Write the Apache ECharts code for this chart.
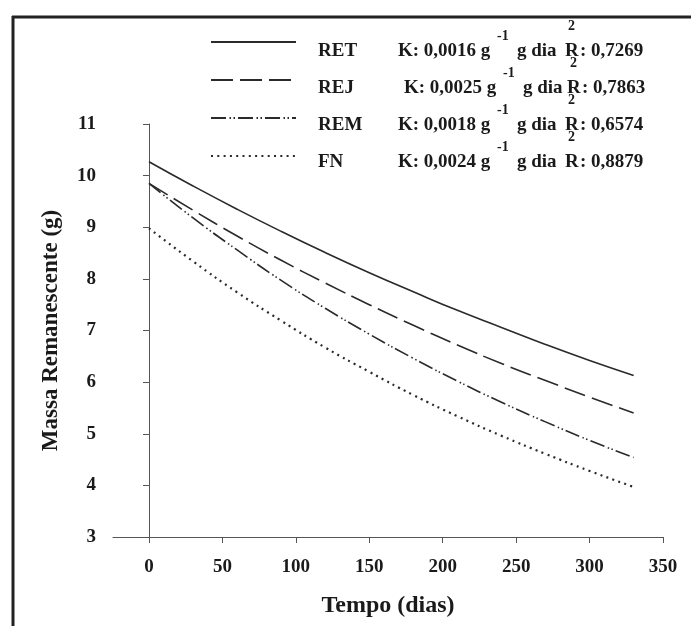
<!DOCTYPE html>
<html lang="pt">
<head>
  <meta charset="utf-8">
  <style>
    html, body { margin: 0; padding: 0; background: #fff; }
    #container { width: 691px; height: 626px; }
  </style>
</head>
<body>
  <div id="container"></div>
  <script type="text/javascript" src="https://fastly.jsdelivr.net/npm/echarts@6/dist/echarts.min.js"></script>
  <script type="text/javascript">
    // dados
    var dias = [0, 30, 60, 90, 120, 150, 180, 210, 240, 270, 300, 330];
    var ret = [10.27, 9.80, 9.35, 8.92, 8.51, 8.12, 7.75, 7.39, 7.06, 6.73, 6.42, 6.13];
    var rej = [9.85, 9.33, 8.83, 8.36, 7.92, 7.50, 7.10, 6.72, 6.36, 6.03, 5.71, 5.40];
    var rem = [9.85, 9.18, 8.56, 7.97, 7.43, 6.93, 6.46, 6.02, 5.61, 5.23, 4.87, 4.54];
    var fn = [8.98, 8.34, 7.74, 7.19, 6.67, 6.20, 5.75, 5.34, 4.96, 4.61, 4.28, 3.97];
    var xTicks = [0, 50, 100, 150, 200, 250, 300, 350];
    var nomes = ['RET', 'REJ', 'REM', 'FN'];
    var kTxt = ['K: 0,0016 g', 'K: 0,0025 g', 'K: 0,0018 g', 'K: 0,0024 g'];
    var r2Txt = [': 0,7269', ': 0,7863', ': 0,6574', ': 0,8879'];

    var fonte = "'Liberation Serif', 'Times New Roman', serif";
    var cor = '#1a1a1a';

    function pares(ys) {
      return dias.map(function (d, i) { return [d, ys[i]]; });
    }

    // textos da legenda (K e R2 com expoentes)
    var rowY = [51, 88, 125, 162];
    var kX = [398, 404, 398, 398];
    var rX = [565, 567, 565, 565];
    var gfx = [
      { type: 'line', shape: { x1: 13, y1: 16, x2: 13, y2: 626 }, style: { stroke: '#222', lineWidth: 3 } },
      { type: 'line', shape: { x1: 12, y1: 17, x2: 691, y2: 17 }, style: { stroke: '#222', lineWidth: 3 } }
    ];
    nomes.forEach(function (n, i) {
      var y = rowY[i];
      var base = { font: 'bold 19px ' + fonte, fill: cor, textVerticalAlign: 'middle' };
      var sup = { font: 'bold 14px ' + fonte, fill: cor, textVerticalAlign: 'middle' };
      gfx.push({ type: 'text', x: 318, y: y, style: Object.assign({ text: n }, base) });
      gfx.push({ type: 'text', x: kX[i], y: y, style: Object.assign({ text: kTxt[i] }, base) });
      gfx.push({ type: 'text', x: kX[i] + 99, y: y - 15, style: Object.assign({ text: '-1' }, sup) });
      gfx.push({ type: 'text', x: kX[i] + 119, y: y, style: Object.assign({ text: 'g dia' }, base) });
      gfx.push({ type: 'text', x: rX[i], y: y, style: Object.assign({ text: 'R' }, base) });
      gfx.push({ type: 'text', x: rX[i] + 3, y: y - 25, style: Object.assign({ text: '2' }, sup) });
      gfx.push({ type: 'text', x: rX[i] + 15, y: y, style: Object.assign({ text: r2Txt[i] }, base) });
    });

    var myChart = echarts.init(document.getElementById('container'));
    myChart.setOption({
      animation: false,
      grid: { left: 113, right: 28, top: 124, bottom: 89 },
      legend: {
        orient: 'vertical',
        left: 205,
        top: 32,
        itemWidth: 85,
        itemHeight: 10,
        itemGap: 29,
        itemStyle: { opacity: 0 },
        formatter: function () { return ''; },
        data: nomes
      },
      xAxis: {
        type: 'value',
        min: -24.5,
        max: 350,
        name: 'Tempo (dias)',
        nameLocation: 'middle',
        nameGap: 57,
        nameTextStyle: { fontFamily: fonte, fontWeight: 'bold', fontSize: 24, color: cor },
        splitLine: { show: false },
        axisLine: { lineStyle: { color: '#555', width: 1 } },
        axisTick: { customValues: xTicks, length: 6, lineStyle: { color: '#555' } },
        axisLabel: {
          customValues: xTicks, margin: 21,
          fontFamily: fonte, fontWeight: 'bold', fontSize: 19, color: cor
        }
      },
      yAxis: {
        type: 'value',
        min: 3,
        max: 11,
        interval: 1,
        name: 'Massa Remanescente (g)',
        nameLocation: 'middle',
        nameGap: 50,
        nameTextStyle: { fontFamily: fonte, fontWeight: 'bold', fontSize: 23, color: cor },
        splitLine: { show: false },
        axisLine: { show: true, lineStyle: { color: '#555', width: 1 } },
        axisTick: { show: true, length: 6, lineStyle: { color: '#555' } },
        axisLabel: { margin: 17, fontFamily: fonte, fontWeight: 'bold', fontSize: 19, color: cor }
      },
      series: [
        { name: 'RET', type: 'line', smooth: true, symbol: 'none', data: pares(ret),
          lineStyle: { color: '#2a2a2a', width: 1.6, type: 'solid' } },
        { name: 'REJ', type: 'line', smooth: true, symbol: 'none', data: pares(rej),
          lineStyle: { color: '#2a2a2a', width: 1.6, type: [22, 7] } },
        { name: 'REM', type: 'line', smooth: true, symbol: 'none', data: pares(rem),
          lineStyle: { color: '#2a2a2a', width: 1.6, type: [15, 3.5, 1.5, 2.5, 1.5, 3] } },
        { name: 'FN', type: 'line', smooth: true, symbol: 'none', data: pares(fn),
          lineStyle: { color: '#2a2a2a', width: 2.2, type: [2, 4.3] } }
      ],
      graphic: gfx
    });
  </script>
</body>
</html>
